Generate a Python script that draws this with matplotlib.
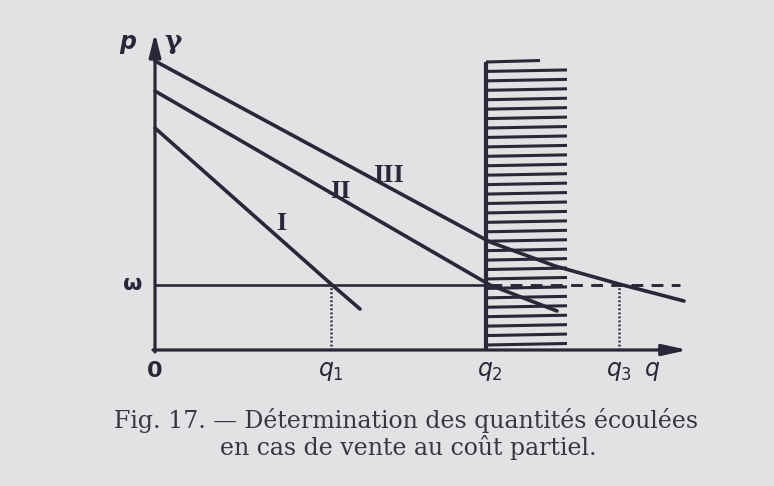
import numpy as np
import matplotlib
matplotlib.use("Agg")
import matplotlib.pyplot as plt

plt.rcParams['lines.scale_dashes'] = False

# ---- data (quantity q, price p; arbitrary units) ----
curve_I_q = [0, 176, 205]
curve_I_p = [222, 66, 41]
curve_II_q = [0, 335, 402]
curve_II_p = [259, 65, 39]
curve_III_q = [0, 335, 400, 464, 529]
curve_III_p = [289, 108, 84, 66, 49]
omega = 65
q1, q2, q3 = 176, 335, 464
omega_solid_end = 335
omega_dash_end = 525
hatch_q = [331, 412]
hatch_p = [2, 288]
curve_labels = ["I", "II", "III"]
curve_label_pos = [(126, 127), (185, 158), (234, 174)]
tick_labels = ["0", "$q_1$", "$q_2$", "$q_3$", "$q$"]
caption1 = "Fig. 17. — Détermination des quantités écoulées"
caption2 = "en cas de vente au coût partiel."

ink = "#2a2738"
paper = "#e1e2e4"

fig = plt.figure(figsize=(7.74, 4.86), dpi=100, facecolor=paper)
ax = fig.add_axes([0, 0, 1, 1])
ax.set_facecolor(paper)
ax.set_xlim(-155, 774 - 155)
ax.set_ylim(350 - 486, 350)
ax.axis("off")

# axes with arrows
ax.annotate("", xy=(533, 0), xytext=(-2, 0),
            arrowprops=dict(arrowstyle="-|>,head_length=1.0,head_width=0.22",
                            lw=2.3, color=ink, mutation_scale=15, shrinkA=0, shrinkB=0))
ax.annotate("", xy=(0, 317), xytext=(0, -2),
            arrowprops=dict(arrowstyle="-|>,head_length=1.0,head_width=0.25",
                            lw=2.3, color=ink, mutation_scale=14, shrinkA=0, shrinkB=0))

# hatched band
ax.plot([hatch_q[0], hatch_q[0]], [hatch_p[0] - 2, hatch_p[1]], color=ink, lw=3.0,
        solid_capstyle="butt")
levels = np.linspace(hatch_p[0] + 3, hatch_p[1], 31)
for i, lv in enumerate(levels):
    right = hatch_q[1] if i < len(levels) - 1 else hatch_q[0] + 54
    ax.plot([hatch_q[0], right], [lv, lv + 1.5], color=ink, lw=2.2,
            solid_capstyle="butt")

# omega line
ax.plot([0, omega_solid_end], [omega, omega], color=ink, lw=1.9)
ax.plot([omega_solid_end, omega_dash_end], [omega, omega], color=ink, lw=2.1,
        dashes=(8.5, 6.0))

# dotted drop lines
for qq in (q1, q3):
    ax.plot([qq, qq], [0, omega], color=ink, lw=1.8, dashes=(1.3, 1.6))

# demand curves
for qs, ps in ((curve_I_q, curve_I_p), (curve_II_q, curve_II_p),
               (curve_III_q, curve_III_p)):
    ax.plot(qs, ps, color=ink, lw=2.6, solid_capstyle="round",
            solid_joinstyle="round")

for lab, (x, y) in zip(curve_labels, curve_label_pos):
    ax.text(x, y, lab, fontsize=19, family="Liberation Serif", fontweight="bold",
            color=ink, ha="center", va="center")

# axis labels
ax.text(-27, 308, "p", fontsize=17, family="DejaVu Sans", style="italic",
        fontweight="bold", color=ink, ha="center", va="center")
ax.text(18, 308, "γ", fontsize=19, family="DejaVu Serif", fontweight="bold",
        color=ink, ha="center", va="center")
ax.text(-22, omega + 1, "ω", fontsize=16, family="DejaVu Sans", fontweight="bold",
        color=ink, ha="center", va="center")
ax.text(0, -21, tick_labels[0], fontsize=16, family="DejaVu Sans", fontweight="bold",
        color=ink, ha="center", va="center")
for lab, qq in zip(tick_labels[1:], (q1, q2, q3, 497)):
    ax.text(qq, -21, lab, fontsize=17, color=ink, ha="center", va="center")

# caption
ax.text(251, -70, caption1, fontsize=17, family="DejaVu Serif", color="#3a3540",
        ha="center", va="center")
ax.text(253, -97, caption2, fontsize=17, family="DejaVu Serif", color="#3a3540",
        ha="center", va="center")

fig.savefig("out.png", dpi=100, facecolor=paper)
